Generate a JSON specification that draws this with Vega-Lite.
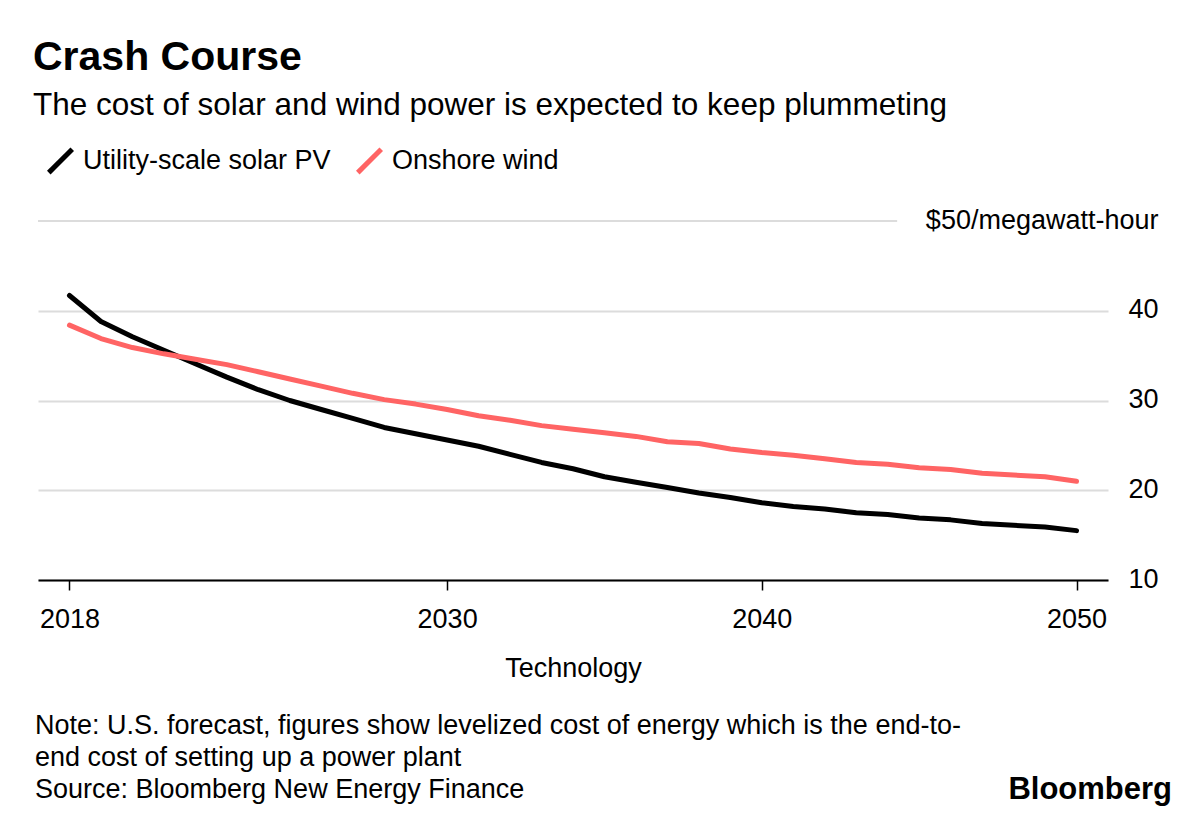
{
  "$schema": "https://vega.github.io/schema/vega-lite/v6.json",
  "padding": {"top": 36, "left": 33, "right": 10, "bottom": 10},
  "background": "white",
  "config": {
    "font": "Liberation Sans",
    "view": {"stroke": null},
    "concat": {"spacing": 31}
  },
  "title": {
    "text": "Crash Course",
    "subtitle": "The cost of solar and wind power is expected to keep plummeting",
    "anchor": "start",
    "fontSize": 41,
    "fontWeight": "bold",
    "color": "#000",
    "subtitleFontSize": 31.5,
    "subtitleColor": "#000",
    "subtitlePadding": 11,
    "offset": 16,
    "dx": -2
  },
  "datasets": {
    "costs": [
      {"year": 2018, "tech": "Utility-scale solar PV", "cost": 41.7},
      {"year": 2019, "tech": "Utility-scale solar PV", "cost": 38.8},
      {"year": 2020, "tech": "Utility-scale solar PV", "cost": 37.1},
      {"year": 2021, "tech": "Utility-scale solar PV", "cost": 35.6},
      {"year": 2022, "tech": "Utility-scale solar PV", "cost": 34.1},
      {"year": 2023, "tech": "Utility-scale solar PV", "cost": 32.6},
      {"year": 2024, "tech": "Utility-scale solar PV", "cost": 31.2},
      {"year": 2025, "tech": "Utility-scale solar PV", "cost": 30.0},
      {"year": 2026, "tech": "Utility-scale solar PV", "cost": 29.0},
      {"year": 2027, "tech": "Utility-scale solar PV", "cost": 28.0},
      {"year": 2028, "tech": "Utility-scale solar PV", "cost": 27.0},
      {"year": 2029, "tech": "Utility-scale solar PV", "cost": 26.3},
      {"year": 2030, "tech": "Utility-scale solar PV", "cost": 25.6},
      {"year": 2031, "tech": "Utility-scale solar PV", "cost": 24.9},
      {"year": 2032, "tech": "Utility-scale solar PV", "cost": 24.0},
      {"year": 2033, "tech": "Utility-scale solar PV", "cost": 23.1},
      {"year": 2034, "tech": "Utility-scale solar PV", "cost": 22.4},
      {"year": 2035, "tech": "Utility-scale solar PV", "cost": 21.5},
      {"year": 2036, "tech": "Utility-scale solar PV", "cost": 20.9},
      {"year": 2037, "tech": "Utility-scale solar PV", "cost": 20.3},
      {"year": 2038, "tech": "Utility-scale solar PV", "cost": 19.7},
      {"year": 2039, "tech": "Utility-scale solar PV", "cost": 19.2},
      {"year": 2040, "tech": "Utility-scale solar PV", "cost": 18.6},
      {"year": 2041, "tech": "Utility-scale solar PV", "cost": 18.2},
      {"year": 2042, "tech": "Utility-scale solar PV", "cost": 17.9},
      {"year": 2043, "tech": "Utility-scale solar PV", "cost": 17.5},
      {"year": 2044, "tech": "Utility-scale solar PV", "cost": 17.3},
      {"year": 2045, "tech": "Utility-scale solar PV", "cost": 16.9},
      {"year": 2046, "tech": "Utility-scale solar PV", "cost": 16.7},
      {"year": 2047, "tech": "Utility-scale solar PV", "cost": 16.3},
      {"year": 2048, "tech": "Utility-scale solar PV", "cost": 16.1},
      {"year": 2049, "tech": "Utility-scale solar PV", "cost": 15.9},
      {"year": 2050, "tech": "Utility-scale solar PV", "cost": 15.5},
      {"year": 2018, "tech": "Onshore wind", "cost": 38.4},
      {"year": 2019, "tech": "Onshore wind", "cost": 36.9},
      {"year": 2020, "tech": "Onshore wind", "cost": 35.9},
      {"year": 2021, "tech": "Onshore wind", "cost": 35.2},
      {"year": 2022, "tech": "Onshore wind", "cost": 34.6},
      {"year": 2023, "tech": "Onshore wind", "cost": 34.0},
      {"year": 2024, "tech": "Onshore wind", "cost": 33.2},
      {"year": 2025, "tech": "Onshore wind", "cost": 32.4},
      {"year": 2026, "tech": "Onshore wind", "cost": 31.6},
      {"year": 2027, "tech": "Onshore wind", "cost": 30.8},
      {"year": 2028, "tech": "Onshore wind", "cost": 30.1},
      {"year": 2029, "tech": "Onshore wind", "cost": 29.6},
      {"year": 2030, "tech": "Onshore wind", "cost": 29.0},
      {"year": 2031, "tech": "Onshore wind", "cost": 28.3},
      {"year": 2032, "tech": "Onshore wind", "cost": 27.8},
      {"year": 2033, "tech": "Onshore wind", "cost": 27.2},
      {"year": 2034, "tech": "Onshore wind", "cost": 26.8},
      {"year": 2035, "tech": "Onshore wind", "cost": 26.4},
      {"year": 2036, "tech": "Onshore wind", "cost": 26.0},
      {"year": 2037, "tech": "Onshore wind", "cost": 25.4},
      {"year": 2038, "tech": "Onshore wind", "cost": 25.2},
      {"year": 2039, "tech": "Onshore wind", "cost": 24.6},
      {"year": 2040, "tech": "Onshore wind", "cost": 24.2},
      {"year": 2041, "tech": "Onshore wind", "cost": 23.9},
      {"year": 2042, "tech": "Onshore wind", "cost": 23.5},
      {"year": 2043, "tech": "Onshore wind", "cost": 23.1},
      {"year": 2044, "tech": "Onshore wind", "cost": 22.9},
      {"year": 2045, "tech": "Onshore wind", "cost": 22.5},
      {"year": 2046, "tech": "Onshore wind", "cost": 22.3},
      {"year": 2047, "tech": "Onshore wind", "cost": 21.9},
      {"year": 2048, "tech": "Onshore wind", "cost": 21.7},
      {"year": 2049, "tech": "Onshore wind", "cost": 21.5},
      {"year": 2050, "tech": "Onshore wind", "cost": 21.0}
    ],
    "footer": [
      {"row": 1, "side": "left", "text": "Note: U.S. forecast, figures show levelized cost of energy which is the end-to-"},
      {"row": 2, "side": "left", "text": "end cost of setting up a power plant"},
      {"row": 3, "side": "left", "text": "Source: Bloomberg New Energy Finance"},
      {"row": 3, "side": "right", "text": "Bloomberg"}
    ]
  },
  "vconcat": [
    {
      "width": 1070,
      "height": 359,
      "layer": [
        {
          "data": {"values": [{}]},
          "mark": {"type": "rule", "color": "#dcdcdc", "strokeWidth": 2},
          "encoding": {
            "y": {"datum": 50, "type": "quantitative"},
            "x": {"datum": 2017, "type": "quantitative"},
            "x2": {"datum": 2044.3}
          }
        },
        {
          "data": {"name": "costs"},
          "transform": [{"filter": "datum.tech === 'Utility-scale solar PV'"}],
          "mark": {"type": "line", "strokeWidth": 5, "strokeCap": "round", "strokeJoin": "round"},
          "encoding": {
            "x": {
              "field": "year", "type": "quantitative",
              "scale": {"domain": [2017, 2051], "nice": false, "zero": false},
              "axis": {
                "values": [2018, 2030, 2040, 2050], "format": "d",
                "title": "Technology", "titleFontSize": 27, "titleFontWeight": "normal", "titleColor": "#000", "titlePadding": 23,
                "grid": false, "domainColor": "#000", "domainWidth": 2,
                "tickColor": "#000", "tickSize": 10, "tickWidth": 1.5,
                "labelFontSize": 27, "labelColor": "#000", "labelPadding": 16, "labelFlush": false
              }
            },
            "y": {
              "field": "cost", "type": "quantitative",
              "scale": {"domain": [10, 50], "nice": false, "zero": false},
              "axis": {
                "orient": "right", "values": [10, 20, 30, 40, 50], "title": null,
                "grid": true,
                "gridColor": {"condition": {"test": "datum.value === 50", "value": "transparent"}, "value": "#dcdcdc"},
                "gridWidth": 2, "domain": false, "ticks": false,
                "labelAlign": "right", "labelPadding": 50, "labelFontSize": 27, "labelColor": "#000",
                "labelBaseline": "middle", "labelOffset": -1, "labelLimit": 400,
                "labelExpr": "datum.value === 50 ? '$50/megawatt-hour' : datum.label"
              }
            },
            "color": {
              "field": "tech", "type": "nominal",
              "scale": {"domain": ["Utility-scale solar PV", "Onshore wind"], "range": ["#000000", "#ff6464"]},
              "legend": {
                "orient": "top", "title": null, "direction": "horizontal",
                "symbolType": "M-1,1L1,-1", "symbolSize": 550, "symbolStrokeWidth": 5,
                "labelFontSize": 27, "labelColor": "#000", "labelOffset": 8, "labelLimit": 400,
                "columnPadding": 16, "offset": 15, "padding": 8
              }
            }
          }
        },
        {
          "data": {"name": "costs"},
          "transform": [{"filter": "datum.tech === 'Onshore wind'"}],
          "mark": {"type": "line", "strokeWidth": 5, "strokeCap": "round", "strokeJoin": "round"},
          "encoding": {
            "x": {"field": "year", "type": "quantitative"},
            "y": {"field": "cost", "type": "quantitative"},
            "color": {"field": "tech", "type": "nominal"}
          }
        }
      ]
    },
    {
      "width": 1134,
      "height": 64,
      "data": {"name": "footer"},
      "layer": [
        {
          "transform": [{"filter": "datum.side === 'left'"}],
          "mark": {"type": "text", "align": "left", "baseline": "middle", "fontSize": 27, "color": "#000", "dx": -3},
          "encoding": {
            "x": {"field": "side", "type": "nominal", "scale": {"type": "point", "domain": ["left", "right"], "padding": 0}, "axis": null},
            "y": {"field": "row", "type": "ordinal", "scale": {"type": "point", "domain": [1, 2, 3], "padding": 0}, "axis": null},
            "text": {"field": "text"}
          }
        },
        {
          "transform": [{"filter": "datum.side === 'right'"}],
          "mark": {"type": "text", "align": "right", "baseline": "middle", "fontSize": 31, "fontWeight": "bold", "color": "#000"},
          "encoding": {
            "x": {"field": "side", "type": "nominal", "axis": null},
            "y": {"field": "row", "type": "ordinal", "axis": null},
            "text": {"field": "text"}
          }
        }
      ]
    }
  ],
  "resolve": {"scale": {"x": "independent", "y": "independent"}}
}
